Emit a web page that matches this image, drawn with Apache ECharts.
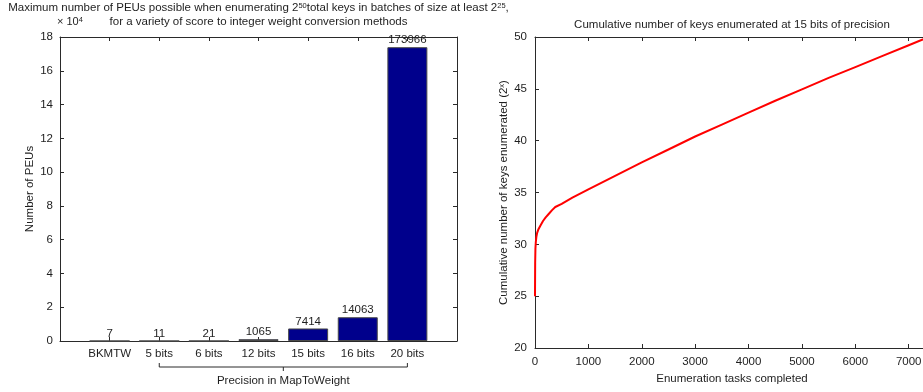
<!DOCTYPE html>
<html>
<head>
<meta charset="utf-8">
<script src="https://cdn.jsdelivr.net/npm/echarts@6/dist/echarts.min.js"></script>
<style>
  html, body { margin: 0; padding: 0; background: #fff; }
  #chart { width: 923px; height: 392px; }
</style>
</head>
<body>
<div id="chart"></div>
<script>
// Left panel: PEU counts per weight-conversion method
const methods = ['BKMTW', '5 bits', '6 bits', '12 bits', '15 bits', '16 bits', '20 bits'];
const peuCounts = [7, 11, 21, 1065, 7414, 14063, 173966];
const peuScale = 10000; // y tick labels are shown in units of 10^4

// Right panel: cumulative keys enumerated (log2) vs. tasks completed
const tasksCompleted = [0, 3, 8, 15, 25, 40, 60, 100, 150, 200, 260, 320, 380, 500, 700, 1000, 1500, 2000, 2500, 3000, 3500, 4000, 4500, 5000, 5500, 6000, 6500, 7000, 7380];
const keysLog2 = [25.0, 28.2, 29.6, 30.2, 30.7, 31.1, 31.4, 31.8, 32.25, 32.6, 32.95, 33.3, 33.6, 33.9, 34.5, 35.3, 36.6, 37.9, 39.15, 40.4, 41.55, 42.7, 43.85, 44.95, 46.05, 47.1, 48.15, 49.2, 50.0];

const FONT = '"Liberation Sans", Arial, Helvetica, sans-serif';
const FS = 11.5;
const TXT = '#1e1e1e';
const AX = '#2a2a2a';

const chart = echarts.init(document.getElementById('chart'), null, { renderer: 'canvas' });

// fresh style objects for every axis
const tickInside = () => ({ show: true, inside: true, length: 4, lineStyle: { color: AX, width: 1 } });
const axisLine = () => ({ show: true, onZero: false, lineStyle: { color: AX, width: 1 } });
const labelStyle = extra => Object.assign({ color: TXT, fontFamily: FONT, fontSize: FS }, extra);
const nameStyle = extra => Object.assign({ color: TXT, fontFamily: FONT, fontSize: FS }, extra);

const option = {
  animation: false,
  backgroundColor: '#fff',
  textStyle: { fontFamily: FONT },
  grid: [
    { left: 60, top: 37, width: 397, height: 304, containLabel: false, outerBoundsMode: 'none' },
    { left: 535, top: 37, right: -6, height: 311, containLabel: false, outerBoundsMode: 'none' }
  ],
  xAxis: [
    {
      type: 'value', gridIndex: 0, min: 0, max: methods.length + 1, interval: 1,
      axisLine: axisLine(), axisTick: tickInside(), splitLine: { show: false },
      axisLabel: labelStyle({ margin: 7, formatter: v => methods[v - 1] || '' })
    },
    {
      type: 'value', gridIndex: 0, position: 'top', min: 0, max: methods.length + 1, interval: 1,
      axisLine: axisLine(), axisTick: tickInside(), axisLabel: { show: false }, splitLine: { show: false }
    },
    {
      type: 'value', gridIndex: 1, min: 0, max: 7380, interval: 1000,
      axisLine: axisLine(), axisTick: tickInside(), splitLine: { show: false },
      name: 'Enumeration tasks completed', nameLocation: 'middle', nameGap: 22,
      nameTextStyle: nameStyle(),
      axisLabel: labelStyle({ margin: 8, formatter: v => (v % 1000 === 0 ? String(v) : '') })
    },
    {
      type: 'value', gridIndex: 1, position: 'top', min: 0, max: 7380, interval: 1000,
      axisLine: axisLine(), axisTick: tickInside(), axisLabel: { show: false }, splitLine: { show: false }
    }
  ],
  yAxis: [
    {
      type: 'value', gridIndex: 0, min: 0, max: 18 * peuScale, interval: 2 * peuScale,
      axisLine: axisLine(), axisTick: tickInside(), splitLine: { show: false },
      name: 'Number of PEUs', nameLocation: 'middle', nameGap: 18,
      nameTextStyle: nameStyle(),
      axisLabel: labelStyle({ margin: 7, formatter: v => String(v / peuScale) })
    },
    {
      type: 'value', gridIndex: 0, position: 'right', min: 0, max: 18 * peuScale, interval: 2 * peuScale,
      axisLine: axisLine(), axisTick: tickInside(), axisLabel: { show: false }, splitLine: { show: false }
    },
    {
      type: 'value', gridIndex: 1, min: 20, max: 50, interval: 5,
      axisLine: axisLine(), axisTick: tickInside(), splitLine: { show: false },
      name: 'Cumulative number of keys enumerated (2{s|x})', nameLocation: 'middle', nameGap: 15,
      nameTextStyle: nameStyle({
        rich: { s: { fontSize: 7.5, verticalAlign: 'top', color: TXT, fontFamily: FONT } }
      }),
      axisLabel: labelStyle({ margin: 8 })
    },
    {
      type: 'value', gridIndex: 1, position: 'right', min: 20, max: 50, interval: 5,
      axisLine: axisLine(), axisTick: tickInside(), axisLabel: { show: false }, splitLine: { show: false }
    }
  ],
  series: [
    {
      type: 'bar', xAxisIndex: 0, yAxisIndex: 0,
      data: peuCounts.map((v, i) => [i + 1, v]),
      barWidth: 40,
      itemStyle: { color: '#00008c', borderColor: '#4a4a4a', borderWidth: 1 },
      label: {
        show: true, position: 'top', distance: 1,
        color: TXT, fontFamily: FONT, fontSize: FS,
        formatter: p => String(p.value[1])
      }
    },
    {
      type: 'line', xAxisIndex: 2, yAxisIndex: 2,
      data: tasksCompleted.map((t, i) => [t, keysLog2[i]]),
      showSymbol: false, smooth: false,
      lineStyle: { color: '#ff0000', width: 2 },
      itemStyle: { color: '#ff0000' }
    }
  ]
};

chart.setOption(option);

// Titles, exponent note and the bracket grouping the precision settings
const sup = { fontSize: 7.5, verticalAlign: 'top', fill: TXT, fontFamily: FONT };
const base = { fontSize: FS, fill: TXT, fontFamily: FONT };
const x2 = chart.convertToPixel({ xAxisIndex: 0 }, 2);
const x7 = chart.convertToPixel({ xAxisIndex: 0 }, 7);
const xm = (x2 + x7) / 2;
const titleX = (chart.convertToPixel({ xAxisIndex: 0 }, 0) + chart.convertToPixel({ xAxisIndex: 0 }, methods.length + 1)) / 2;
const yb = 367;

chart.setOption({
  graphic: [
    {
      type: 'text', x: titleX, y: 2,
      style: {
        text: '{b|Maximum number of PEUs possible when enumerating 2}{s|50}{b|total keys in batches of size at least 2}{s|25}{b|,}',
        rich: { b: base, s: sup }, align: 'center', fontFamily: FONT, fontSize: FS
      }
    },
    {
      type: 'text', x: titleX, y: 16,
      style: { text: 'for a variety of score to integer weight conversion methods', align: 'center', fill: TXT, font: FS + 'px ' + FONT }
    },
    {
      type: 'text', x: 57, y: 16,
      style: { text: '{b|× 10}{s|4}', rich: { b: { fontSize: 11, fill: TXT, fontFamily: FONT }, s: sup }, fontFamily: FONT, fontSize: 11 }
    },
    {
      type: 'text', x: 732, y: 19,
      style: { text: 'Cumulative number of keys enumerated at 15 bits of precision', align: 'center', fill: TXT, font: FS + 'px ' + FONT }
    },
    {
      type: 'polyline',
      shape: { points: [[x2, yb - 4], [x2, yb], [x7, yb], [x7, yb - 4]] },
      style: { stroke: AX, lineWidth: 1, fill: null }
    },
    {
      type: 'line',
      shape: { x1: xm, y1: yb, x2: xm, y2: yb + 4 },
      style: { stroke: AX, lineWidth: 1 }
    },
    {
      type: 'text', x: xm, y: 375,
      style: { text: 'Precision in MapToWeight', align: 'center', fill: TXT, font: FS + 'px ' + FONT }
    }
  ]
});
</script>
</body>
</html>
